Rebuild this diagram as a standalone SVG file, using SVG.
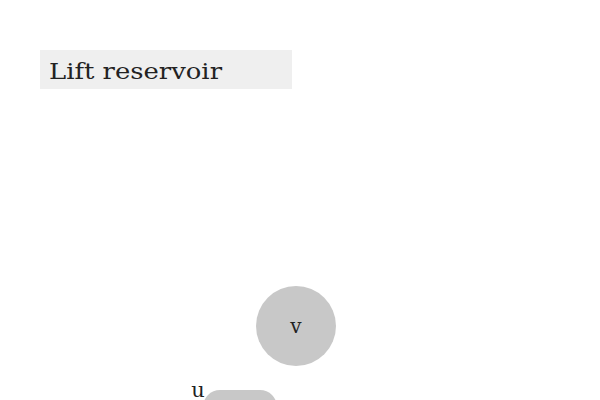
<svg xmlns="http://www.w3.org/2000/svg" width="600" height="400" viewBox="0 0 600 400">
<style>
text { font-family: "DejaVu Serif", "Liberation Serif", serif; fill: #222; }
.node { fill: #c8c8c8; }
</style>
<rect width="600" height="400" fill="#ffffff"/>
<g id="title">
<rect x="40" y="50" width="252" height="39" fill="#efefef"/>
<text x="49" y="79" font-size="22" textLength="173" lengthAdjust="spacingAndGlyphs">Lift reservoir</text>
</g>
<g id="connectors"></g>
<g id="node-v">
<circle class="node" cx="296" cy="326" r="40"/>
<text x="296" y="333" font-size="20" text-anchor="middle">v</text>
</g>
<g id="node-u">
<rect class="node" x="203" y="390" width="74" height="40" rx="17"/>
<text x="198" y="397" font-size="21" text-anchor="middle">u</text>
</g>
</svg>
